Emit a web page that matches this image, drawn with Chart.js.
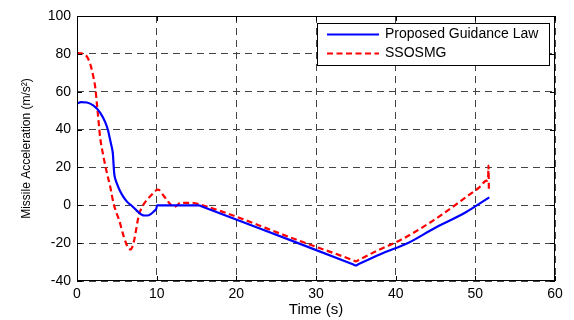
<!DOCTYPE html>
<html>
<head>
<meta charset="utf-8">
<script src="https://cdn.jsdelivr.net/npm/chart.js@4/dist/chart.umd.min.js"></script>
<style>
html,body{margin:0;padding:0;background:#fff;}
#wrap{width:574px;height:320px;position:relative;}
</style>
</head>
<body>
<div id="wrap"><canvas id="c" width="574" height="320"></canvas></div>
<script>
// ---- data ----
const seriesNames = ["Proposed Guidance Law", "SSOSMG"];
const proposedTime = [0, 0.5, 1.25, 2.08, 2.9, 3.54, 3.9, 4.17, 4.35, 4.5, 4.6, 4.67, 4.8, 5.0, 5.4, 5.8, 6.3, 6.8, 7.3, 7.8, 8.3, 8.8, 9.3, 9.7, 9.95, 10.05, 15.0, 15.3, 15.6, 28, 34.7, 35, 35.3, 38, 41.75, 44.7, 48.8, 51.75];
const proposedAccel = [53.8, 54.5, 54.3, 52.6, 49, 43.9, 39.5, 34.3, 31, 27.3, 21, 16.8, 14, 11.6, 7.5, 4.6, 1.8, 0, -2, -4, -5.3, -5.4, -4.5, -3, -1.8, 0, 0, 0, -0.5, -20.4, -31.3, -31.8, -31.2, -26, -19.5, -12.5, -3.7, 4.2];
const ssosmgTime = [0, 0.5, 0.9, 1.25, 1.67, 2.08, 2.3, 2.5, 2.7, 2.9, 3.25, 3.67, 4.17, 4.58, 5.0, 5.3, 5.6, 5.9, 6.2, 6.5, 6.75, 6.95, 7.2, 7.4, 7.6, 7.8, 8.1, 8.4, 8.8, 9.25, 9.7, 10.1, 10.4, 10.7, 11.1, 11.5, 11.85, 12.2, 12.5, 13, 14.5, 15.0, 28, 34.7, 35, 35.3, 38, 40.5, 44.7, 48.8, 50.5, 51.4, 51.6, 51.65, 51.7];
const ssosmgAccel = [80.5, 80.3, 79.8, 78.5, 74.5, 67.4, 62, 53.5, 44.8, 36, 27.3, 18.6, 9.8, 1.1, -4.5, -8, -12.5, -17, -20.5, -23, -23.3, -22, -18, -13.4, -8.5, -4.6, -1.5, 0.7, 3, 5, 7, 8.3, 7.8, 6, 3.8, 1.6, 0, -1, -0.2, 1.3, 1.3, 0.9, -18.9, -29.1, -29.6, -29.0, -23.3, -18.6, -8.1, 4.2, 9.5, 13, 13.5, 21, 8.5];
const xTicks = [0, 10, 20, 30, 40, 50, 60];
const yTicks = [-40, -20, 0, 20, 40, 60, 80, 100];

const FONT = "'Liberation Sans', Arial, Helvetica, sans-serif";

function toPoints(xs, ys){ return xs.map((x,i)=>({x:x, y:ys[i]})); }

// Frame + inward ticks + legend box
const matlabPlugin = {
  id: 'matlab',
  afterDraw(chart){
    const {ctx, chartArea:a, scales} = chart;
    ctx.save();
    ctx.strokeStyle = '#000';
    ctx.lineWidth = 1;
    ctx.setLineDash([]);
    ctx.strokeRect(a.left+0.5, a.top+0.5, a.right-a.left-1, a.bottom-a.top-1);
    // inward ticks
    const tl = 5;
    ctx.beginPath();
    xTicks.forEach(v=>{
      const px = Math.round(scales.x.getPixelForValue(v))+0.5;
      ctx.moveTo(px, a.bottom); ctx.lineTo(px, a.bottom-tl);
      ctx.moveTo(px, a.top); ctx.lineTo(px, a.top+tl);
    });
    yTicks.forEach(v=>{
      const py = Math.round(scales.y.getPixelForValue(v))+0.5;
      ctx.moveTo(a.left, py); ctx.lineTo(a.left+tl, py);
      ctx.moveTo(a.right, py); ctx.lineTo(a.right-tl, py);
    });
    ctx.stroke();
    // legend
    const bx = 317, by = 23, bw = 232, bh = 42;
    ctx.fillStyle = '#fff';
    ctx.fillRect(bx, by, bw, bh);
    ctx.strokeStyle = '#000';
    ctx.strokeRect(bx+0.5, by+0.5, bw, bh);
    const rows = [34.5, 53.5];
    chart.data.datasets.forEach((ds, i)=>{
      ctx.strokeStyle = ds.borderColor;
      ctx.lineWidth = 2;
      ctx.setLineDash(ds.borderDash || []);
      ctx.beginPath();
      ctx.moveTo(327, rows[i]); ctx.lineTo(379, rows[i]);
      ctx.stroke();
      ctx.setLineDash([]);
      ctx.fillStyle = '#000';
      ctx.font = '14px ' + FONT;
      ctx.textBaseline = 'middle';
      ctx.textAlign = 'left';
      ctx.fillText(ds.label, 385, rows[i]);
    });
    ctx.restore();
  }
};

new Chart(document.getElementById('c'), {
  type: 'line',
  data: {
    datasets: [
      { label: seriesNames[0], data: toPoints(proposedTime, proposedAccel), borderColor: '#0000ff', borderWidth: 2.2, pointRadius: 0, cubicInterpolationMode: 'monotone', fill: false },
      { label: seriesNames[1], data: toPoints(ssosmgTime, ssosmgAccel), borderColor: '#ff0000', borderWidth: 2.2, borderDash: [6, 3.5], pointRadius: 0, cubicInterpolationMode: 'monotone', fill: false }
    ]
  },
  options: {
    responsive: false,
    animation: false,
    devicePixelRatio: 1,
    layout: { padding: { top: 16, right: 19, bottom: 0, left: 0 } },
    plugins: { legend: { display: false }, tooltip: { enabled: false } },
    scales: {
      x: {
        type: 'linear', min: 0, max: 60,
        afterBuildTicks(s){ s.ticks = xTicks.map(v=>({value:v})); },
        afterFit(s){ s.height = 39; },
        grid: { color: '#444', lineWidth: 1, drawTicks: false },
        border: { display: false, dash: [7, 5] },
        ticks: { color: '#000', font: { family: FONT, size: 14 }, padding: 5, maxRotation: 0 },
        title: { display: true, text: 'Time (s)', color: '#000', font: { family: FONT, size: 15 }, padding: { top: 0, bottom: 1 } }
      },
      y: {
        type: 'linear', min: -40, max: 100,
        afterBuildTicks(s){ s.ticks = yTicks.map(v=>({value:v})); },
        afterFit(s){ s.width = 77; },
        grid: { color: '#444', lineWidth: 1, drawTicks: false },
        border: { display: false, dash: [7, 5] },
        ticks: { color: '#000', font: { family: FONT, size: 14 }, padding: 6 },
        title: { display: true, text: 'Missile Acceleration (m/s²)', color: '#000', font: { family: FONT, size: 12 }, padding: { top: 19, bottom: 0 } }
      }
    }
  },
  plugins: [matlabPlugin]
});
</script>
</body>
</html>
